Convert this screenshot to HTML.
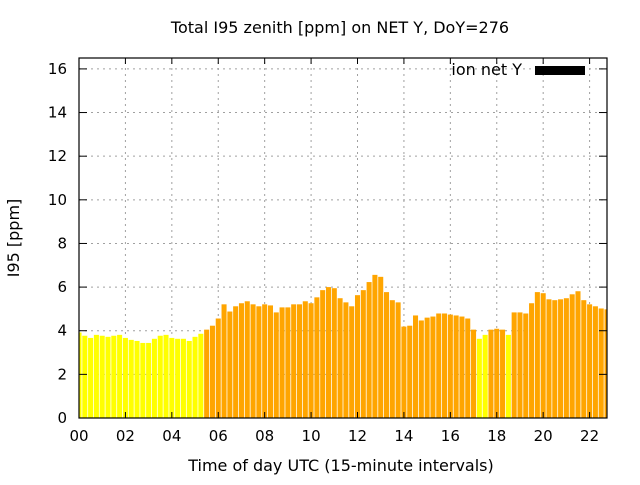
<!DOCTYPE html>
<html><head><meta charset="utf-8"><style>
body{margin:0;background:#fff;}
svg text{font-family:"DejaVu Sans","Liberation Sans",sans-serif;fill:#000;}
</style></head><body>
<svg id="chart" width="640" height="480" xmlns="http://www.w3.org/2000/svg">
<defs><clipPath id="pc"><rect x="79" y="58" width="528" height="360"/></clipPath></defs>
<rect width="640" height="480" fill="#fff"/>
<g id="grid"></g>
<g id="bars" clip-path="url(#pc)"></g>
<g id="axes"></g>
<text x="340" y="33" font-size="16" text-anchor="middle">Total I95 zenith [ppm] on NET Y, DoY=276</text>
<text x="341" y="471" font-size="16" text-anchor="middle">Time of day UTC (15-minute intervals)</text>
<text transform="translate(19,238) rotate(-90)" font-size="16" text-anchor="middle">I95 [ppm]</text>
<g>
<text x="522" y="75" font-size="16" text-anchor="end">ion net Y</text>
<rect x="535" y="66" width="50" height="9" fill="#000"/>
</g>
</svg>
<script>
const values=[3.92,3.77,3.67,3.81,3.77,3.72,3.77,3.81,3.67,3.58,3.53,3.44,3.44,3.63,3.77,3.81,3.67,3.63,3.63,3.53,3.72,3.86,
4.05,4.23,4.56,5.21,4.88,5.12,5.26,5.35,5.21,5.12,5.21,5.16,4.84,5.07,5.07,5.21,5.21,5.35,5.26,5.53,5.86,6.0,5.95,5.49,5.3,
5.12,5.63,5.86,6.23,6.56,6.47,5.77,5.40,5.30,4.19,4.23,4.70,4.47,4.60,4.65,4.79,4.79,4.74,4.70,4.65,4.56,4.05,3.63,3.81,4.05,4.09,4.05,3.81,
4.84,4.84,4.79,5.26,5.77,5.72,5.44,5.40,5.44,5.49,5.67,5.81,5.40,5.21,5.12,5.02,4.98];
const xTicks=["00","02","04","06","08","10","12","14","16","18","20","22"];
const yTicks=[0,2,4,6,8,10,12,14,16];
const X0=79,X1=607,Y0=418,Y1=58,XMAX=22.75,YMAX=16.5;
const sx=h=>X0+h/XMAX*(X1-X0);
const sy=v=>Y0-v/YMAX*(Y0-Y1);
const NS="http://www.w3.org/2000/svg";
function mk(tag,attrs,parent){const e=document.createElementNS(NS,tag);for(const k in attrs)e.setAttribute(k,attrs[k]);parent.appendChild(e);return e;}
const grid=document.getElementById('grid'),bars=document.getElementById('bars'),axes=document.getElementById('axes');
yTicks.forEach(v=>{
  const y=sy(v);
  if(v>0){const l=mk('line',{x1:X0,x2:X1,y1:y,y2:y,stroke:'#a0a0a0','stroke-dasharray':'2,4'},grid);
  
  }
  mk('line',{x1:X0,x2:X0+8,y1:y,y2:y,stroke:'#000'},axes);
  mk('line',{x1:X1,x2:X1-8,y1:y,y2:y,stroke:'#000'},axes);
  const t=mk('text',{x:X0-12,y:y+5,'font-size':15,'text-anchor':'end'},axes);t.textContent=v;
  
  
});
xTicks.forEach((s,i)=>{
  const x=sx(i*2);
  if(i>0){const l=mk('line',{x1:x,x2:x,y1:Y0,y2:Y1,stroke:'#a0a0a0','stroke-dasharray':'2,4'},grid);
  
  }
  mk('line',{x1:x,x2:x,y1:Y0,y2:Y0-6,stroke:'#000'},axes);
  mk('line',{x1:x,x2:x,y1:Y1,y2:Y1+6,stroke:'#000'},axes);
  const t=mk('text',{x:x,y:Y0+23,'font-size':15,'text-anchor':'middle'},axes);t.textContent=s;
  
  
});
const pitch=(X1-X0)/XMAX*0.25, bw=pitch*0.87;
values.forEach((v,i)=>{
  const xc=sx(i*0.25);
  const r=mk('rect',{x:xc-bw/2,y:sy(v),width:bw,height:Y0-sy(v),fill:v<4?'#ffff00':'#ffa500'},bars);
  
  
});
const f=mk('rect',{x:X0,y:Y1,width:X1-X0,height:Y0-Y1,fill:'none',stroke:'#000','stroke-width':1.2},axes);


</script>
</body></html>
